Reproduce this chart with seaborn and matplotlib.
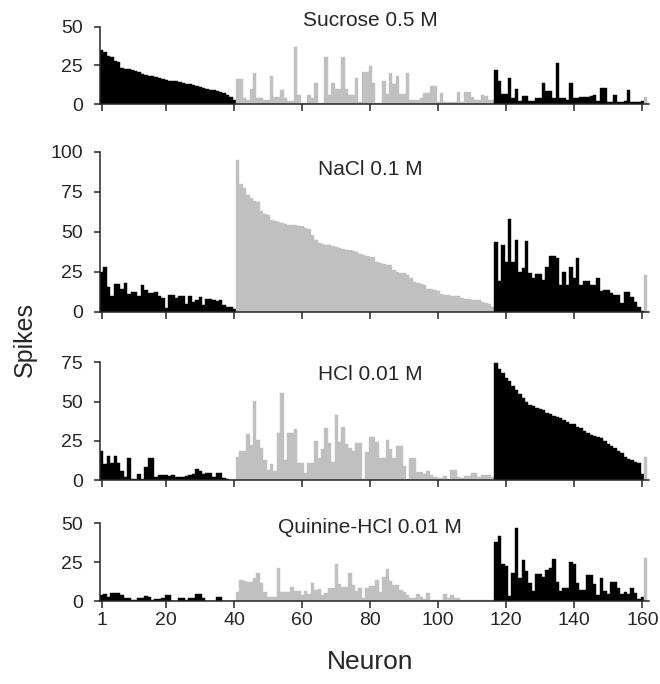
import matplotlib
matplotlib.use("Agg")
import numpy as np
import pandas as pd
import matplotlib.pyplot as plt
import seaborn as sb


# neurons grouped by best stimulus: sucrose, NaCl, HCl, quinine
GROUP_SIZES = [40, 76, 44, 1]
GROUP_NAMES = ["S", "N", "H", "Q"]
COLORS = {"S": "#000000", "N": "#c0c0c0", "H": "#000000", "Q": "#c0c0c0"}

TITLES = ["Sucrose 0.5 M", "NaCl 0.1 M", "HCl 0.01 M", "Quinine-HCl 0.01 M"]
YTICKS = [[0, 25, 50], [0, 25, 50, 75, 100], [0, 25, 50, 75], [0, 25, 50]]
XTICKS = [1, 20, 40, 60, 80, 100, 120, 140, 160]

sucrose = [
    35, 33.5, 31, 30.5, 28, 27.5, 23.5, 23, 22.5, 22, 21.5, 20.5, 19.5, 19, 18.5, 18, 17.5, 17, 16, 15.5,
    15.2, 15, 14.7, 14.2, 13.7, 13.3, 13, 12.5, 12, 11, 10.5, 10, 9.5, 9, 8.3, 7.7, 7, 6, 4.5, 2.5,
    16, 16, 4, 3, 10, 20, 4, 4, 3, 3, 18, 5, 5, 9, 4, 2, 2, 37, 6, 1,
    1, 6, 4, 13.5, 1, 1, 30.5, 6, 13.5, 10, 10, 30.5, 10, 6, 6, 17, 1.3, 20.5, 20.5, 24.5,
    13.5, 1, 1, 15, 6.7, 20, 13, 18, 6.4, 6.4, 20, 2.6, 2.6, 2.6, 4, 7, 7, 12, 12, 1.3,
    7, 1.3, 1.3, 1.7, 1.7, 8.2, 1.3, 7.7, 7.7, 5, 2.8, 2.8, 6, 5.6, 2.8, 2.8,
    22, 15, 6.7, 6.7, 17, 4, 10, 2, 5.4, 5.4, 2, 2, 4, 4, 14, 8.6, 8.6, 4, 26.5, 4.3,
    4.3, 3, 13.5, 4, 4, 4.5, 5, 5, 5.5, 6, 2, 10.7, 10.7, 1.7, 1.7, 6, 1.3, 1.3, 2, 9.2,
    1.7, 1.7, 1.3, 2,
    5,
]

nacl = [
    25, 28, 15.5, 9.5, 17.5, 17.5, 14.5, 18, 11, 12.5, 12.5, 9.5, 16.5, 13.5, 11.5, 11.5, 12.5, 9.5, 8.3, 2,
    10.5, 10.5, 8.3, 10, 10, 5, 10, 6.3, 7.3, 9.4, 4.2, 8, 8, 7.3, 6.7, 7.3, 4.2, 3, 3, 1.7,
    95, 80, 77.5, 73, 71, 69, 68.5, 63, 61, 60.5, 57.5, 56.5, 56, 55.5, 55, 54.5, 54, 54, 53.5, 53.5,
    52.5, 52, 48, 45, 43, 42.5, 42, 41.5, 41, 40.5, 40, 39, 38.5, 38.5, 38, 37.5, 36, 35.5, 35, 34.5,
    34, 31, 30.5, 30, 29.5, 29, 26, 25, 24.5, 24, 23, 21, 18.5, 18, 17.5, 17, 14.5, 14, 13.5, 13,
    11, 10.5, 10.3, 10, 10, 9.5, 8.5, 8, 8, 7.5, 7, 7, 6, 5.5, 5, 3,
    43.8, 19, 42, 31, 58, 31, 44.8, 25, 27.5, 44, 24, 20.8, 23.3, 23.3, 19.8, 28, 35, 35, 33.3, 17,
    25, 17, 28, 20.8, 33.3, 16.7, 19.2, 19.2, 17, 17, 21.3, 13, 13.5, 13.5, 11.5, 10.4, 10.4, 5.2, 12.5, 12.5,
    9.4, 6.3, 3.1, 0.5,
    23,
]

hcl = [
    18.7, 10, 15, 10.6, 15, 11, 5.5, 2, 14, 0.5, 0.5, 4, 0.5, 8.5, 14, 14, 2, 3, 3, 3,
    2.8, 3.2, 2, 2, 2, 2.5, 3.5, 4, 7, 5.5, 4, 4.5, 4.5, 2, 4.5, 4.5, 1, 0.5, 0.3, 0,
    14.4, 18.7, 18.7, 29.3, 22.3, 50.5, 25.5, 20.2, 12.7, 6.4, 10, 6, 30, 55.6, 12.7, 29.7, 29.7, 32.3, 10.6, 10.6,
    4.7, 11, 11, 25, 13.8, 19.5, 33, 23.8, 11.7, 41.4, 24.4, 34, 23, 20.2, 18.7, 23.4, 23.4, 0.4, 18, 27.6,
    27.6, 24.4, 13.8, 13.8, 25.5, 19.5, 13.8, 21.7, 21.7, 8.9, 0.4, 13.8, 13.8, 5.3, 5.3, 3.8, 5.9, 3.2, 2, 1,
    1, 2.5, 0.5, 6.4, 6.4, 2, 1, 2.5, 2.5, 4.7, 4.7, 2, 3.2, 3.2, 3.2, 2,
    74.3, 71, 68, 65, 63, 60, 57.5, 55, 52, 50, 48, 47, 46, 45.5, 44.6, 43, 42, 40.5, 40, 39.5,
    38, 37, 36, 35.5, 34, 33, 31, 30, 28.5, 28, 27.5, 27, 25, 23, 22, 20.5, 18.5, 17, 14.5, 13.5,
    12.5, 11.5, 11, 4,
    14.4,
]

quinine = [
    4, 4.3, 2.8, 5, 5, 5, 4, 1.7, 1.7, 0.6, 0.6, 1.7, 2, 3.4, 2.6, 0.6, 1.3, 1.3, 1.7, 3.9,
    4, 0, 0, 2.1, 2, 0.6, 1.7, 1.7, 4.3, 4.3, 1.7, 0, 0, 0, 2.4, 2.4, 0, 0, 0, 0,
    5.6, 13.5, 13, 12.5, 12, 15, 17.8, 11.4, 5.6, 2.8, 2.8, 2.8, 21, 6, 5.6, 5.6, 9.2, 6.4, 6.4, 3.9,
    6.4, 4.3, 11.4, 7, 7.7, 3.9, 4.9, 8.6, 8.6, 23.6, 10.7, 9.2, 9.2, 17.8, 10.3, 6.4, 8.2, 1.7, 8.6, 9.9,
    9.9, 13.5, 6, 15.7, 20.6, 12.9, 10.3, 10.3, 7, 6, 3.9, 1.7, 1.7, 4.3, 2.8, 1.3, 4.9, 0.6, 0.6, 0.6,
    0.6, 4.3, 2.1, 3.9, 1.7, 1.7, 0.4, 0.4, 0.4, 0.5, 0.5, 0.5, 0.5, 0.8, 0.8, 0.5,
    38, 42, 23.6, 22.7, 3.4, 17.8, 46.8, 15, 26.4, 19.3, 11.4, 6.4, 17.2, 17.2, 15.7, 20, 21, 27, 12, 6.4,
    8.2, 8.2, 25.3, 23.6, 11.4, 7, 7, 16.7, 16.7, 10.7, 3.9, 14.6, 6.4, 4.3, 12.4, 12.4, 8.6, 4.3, 5.6, 4.3,
    8.6, 4.9, 1.3, 2.8,
    27.9,
]


def main():
    best = []
    for g, n in zip(GROUP_NAMES, GROUP_SIZES):
        best += [g] * n
    neuron = list(range(1, len(best) + 1))

    sb.set_style("ticks")
    plt.rcParams["font.family"] = ["Liberation Sans", "DejaVu Sans"]

    fig = plt.figure(figsize=(6.6, 6.84), dpi=100)
    # axes boxes (left, bottom, width, height) in figure fraction
    boxes = [
        [0.151, 0.8475, 0.832, 0.1135],
        [0.151, 0.5443, 0.832, 0.2339],
        [0.151, 0.2982, 0.832, 0.1721],
        [0.151, 0.1213, 0.832, 0.1136],
    ]
    title_y = [0.970, 0.7515, 0.4518, 0.2281]

    for i, vals in enumerate([sucrose, nacl, hcl, quinine]):
        df = pd.DataFrame({"Neuron": neuron, "Spikes": vals, "Best": best})
        ax = fig.add_axes(boxes[i])
        sb.barplot(data=df, x="Neuron", y="Spikes", hue="Best", palette=COLORS,
                   native_scale=True, dodge=False, width=1.0, errorbar=None,
                   legend=False, linewidth=0, ax=ax)
        for p in ax.patches:
            p.set_edgecolor(p.get_facecolor())
            p.set_linewidth(0.3)

        ax.set_xlim(0.41, 161.9)
        ax.set_ylim(0, YTICKS[i][-1])
        ax.set_yticks(YTICKS[i])
        ax.set_xticks(XTICKS)
        ax.spines["right"].set_visible(False)
        ax.spines["top"].set_visible(False)
        for s in ["left", "bottom"]:
            ax.spines[s].set_linewidth(1.1)
        ax.tick_params(axis="y", direction="out", length=4, width=1.1, labelsize=14, pad=8)
        ax.tick_params(axis="x", direction="out", length=5, width=1.1, labelsize=14, pad=3)
        ax.set_xlabel("")
        ax.set_ylabel("")
        if i < 3:
            ax.set_xticklabels([])
        fig.text(0.5606, title_y[i], TITLES[i], ha="center", va="center", fontsize=15)

    fig.text(0.038, 1 - 340 / 684, "Spikes", rotation=90, ha="center", va="center", fontsize=18)
    fig.text(0.5606, 1 - 662 / 684, "Neuron", ha="center", va="center", fontsize=19)

    plt.savefig("out.png", dpi=100)


if __name__ == "__main__":
    main()
